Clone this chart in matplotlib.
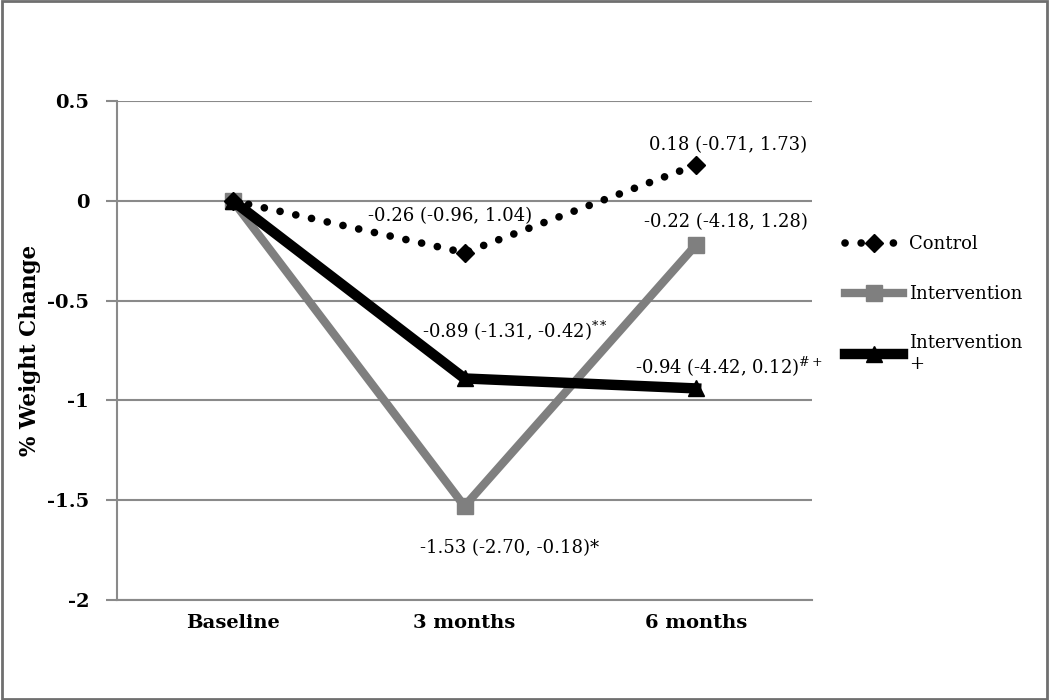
import matplotlib
matplotlib.use("Agg")
import matplotlib.pyplot as plt
from matplotlib.patches import Rectangle

TIMEPOINTS = ["Baseline", "3 months", "6 months"]
CONTROL = [0.0, -0.26, 0.18]
INTERVENTION = [0.0, -1.53, -0.22]
INTERVENTION_PLUS = [0.0, -0.89, -0.94]

CONTROL_LABELS = ["", "-0.26 (-0.96, 1.04)", "0.18 (-0.71, 1.73)"]
INTERVENTION_LABELS = ["", "-1.53 (-2.70, -0.18)*", "-0.22 (-4.18, 1.28)"]
PLUS_LABELS = ["", "-0.89 (-1.31, -0.42)$^{**}$", "-0.94 (-4.42, 0.12)$^{\\#+}$"]

Y_TICKS = [0.5, 0, -0.5, -1, -1.5, -2]
Y_TICK_LABELS = ["0.5", "0", "-0.5", "-1", "-1.5", "-2"]

plt.rcParams["font.family"] = ["DejaVu Serif"]
plt.rcParams["mathtext.fontset"] = "dejavuserif"

fig = plt.figure(figsize=(10.5, 7), dpi=100)
ax = fig.add_axes([117 / 1050, 1 - 600 / 700, (812 - 117) / 1050, 499 / 700])

x = list(range(len(TIMEPOINTS)))
grid_col = "#8a8a8a"

ax.plot(x, INTERVENTION, color="#7f7f7f", lw=6, marker="s", ms=11, zorder=3,
        label="Intervention")
ax.plot(x, INTERVENTION_PLUS, color="black", lw=7.5, marker="^", ms=11, zorder=4,
        label="Intervention\n+")
ax.plot(x, CONTROL, color="black", lw=5.5, ls=(0, (0.01, 2.1)), dash_capstyle="round",
        marker="D", ms=9, zorder=5, label="Control")

ax.set_xlim(-0.5, 2.5)
ax.set_ylim(-2, 0.5)
ax.set_yticks(Y_TICKS)
ax.set_yticklabels(Y_TICK_LABELS, fontsize=14, fontweight="bold")
ax.set_xticks(x)
ax.set_xticklabels(TIMEPOINTS, fontsize=14, fontweight="bold")
ax.tick_params(axis="y", length=8, width=1.5, color=grid_col, pad=12)
ax.tick_params(axis="x", length=0, pad=10)
ax.yaxis.grid(True, color=grid_col, lw=1.5)
ax.set_axisbelow(True)
for side in ["top", "right"]:
    ax.spines[side].set_visible(False)
ax.spines["left"].set_color(grid_col)
ax.spines["left"].set_linewidth(1.5)
ax.spines["bottom"].set_color(grid_col)
ax.spines["bottom"].set_linewidth(1.5)
ax.set_ylabel("% Weight Change", fontsize=15.5, fontweight="bold", labelpad=4)

# data labels: offsets of the text's left edge from the point, in pixels
offs_c = [None, (-97, 37), (-47, 20)]
offs_i = [None, (-44, -42), (-52, 23)]
offs_p = [None, (-43, 47), (-61, 21)]
for i in x:
    if CONTROL_LABELS[i]:
        ax.annotate(CONTROL_LABELS[i], (i, CONTROL[i]), xytext=offs_c[i],
                    textcoords="offset pixels", ha="left", va="center", fontsize=13)
    if INTERVENTION_LABELS[i]:
        ax.annotate(INTERVENTION_LABELS[i], (i, INTERVENTION[i]), xytext=offs_i[i],
                    textcoords="offset pixels", ha="left", va="center", fontsize=13)
    if PLUS_LABELS[i]:
        ax.annotate(PLUS_LABELS[i], (i, INTERVENTION_PLUS[i]), xytext=offs_p[i],
                    textcoords="offset pixels", ha="left", va="center", fontsize=13)

handles, labels = ax.get_legend_handles_labels()
order = [2, 0, 1]
fig.legend([handles[k] for k in order], [labels[k] for k in order],
           loc="upper left", bbox_to_anchor=(838 / 1050, 1 - 228 / 700),
           frameon=False, fontsize=13, handlelength=3.2, handletextpad=0.35,
           labelspacing=1.75, borderaxespad=0)

fig.patches.append(Rectangle((0.0015, 0.002), 0.996, 0.996, transform=fig.transFigure,
                             fill=False, edgecolor="#6f6f6f", lw=2))

fig.savefig("out.png", dpi=100)
